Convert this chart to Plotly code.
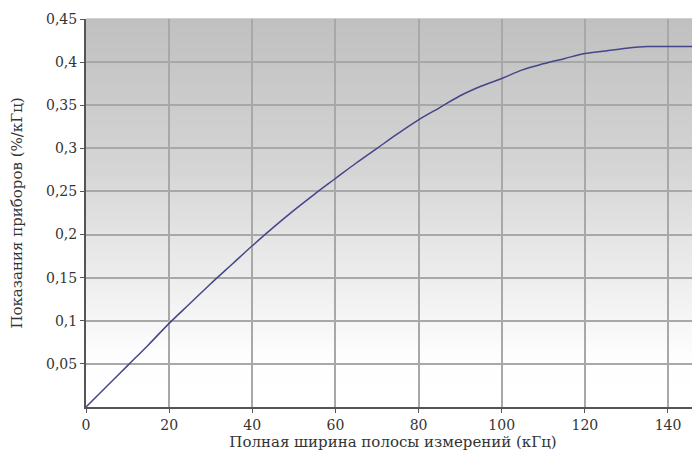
import plotly.graph_objects as go
import numpy as np

# Data
bandwidth_khz = [0, 5, 10, 15, 20, 25, 30, 35, 40, 45, 50, 55, 60, 65, 70, 75, 80, 85, 90, 95,
                 100, 105, 110, 115, 120, 125, 130, 135, 140, 145, 148]
reading = [0.0, 0.024, 0.048, 0.072, 0.097, 0.120, 0.143, 0.165, 0.187, 0.208, 0.228, 0.247,
           0.265, 0.283, 0.300, 0.317, 0.333, 0.347, 0.361, 0.372, 0.381, 0.391, 0.398, 0.404,
           0.410, 0.413, 0.416, 0.418, 0.418, 0.418, 0.418]

x_ticks = [0, 20, 40, 60, 80, 100, 120, 140]
x_labels = ["0", "20", "40", "60", "80", "100", "120", "140"]
y_ticks = [0.05, 0.1, 0.15, 0.2, 0.25, 0.3, 0.35, 0.4, 0.45]
y_labels = ["0,05", "0,1", "0,15", "0,2", "0,25", "0,3", "0,35", "0,4", "0,45"]

fig = go.Figure()
fig.add_trace(go.Scatter(x=bandwidth_khz, y=reading, mode="lines",
                         line=dict(color="#45458a", width=1.5), line_shape="spline",
                         hoverinfo="skip", showlegend=False))

# Vertical gradient background (grey at top -> white at bottom)
anchors_frac = [0.0, 0.39, 0.65, 0.88, 1.0]   # fraction from top of plot area
anchors_val = [192, 213, 236, 254, 255]
n = 80
shapes = []
for i in range(n):
    f0 = i / n
    f1 = (i + 1) / n
    v = int(round(np.interp((f0 + f1) / 2, anchors_frac, anchors_val)))
    c = f"rgb({v},{v},{v})"
    shapes.append(dict(type="rect", xref="paper", yref="paper",
                       x0=0, x1=1, y0=1 - f1, y1=1 - f0 + 0.002,
                       fillcolor=c, line=dict(width=0), layer="below"))

FONT = "DejaVu Serif"
fig.update_layout(
    width=692, height=447,
    margin=dict(l=78, r=0, t=11, b=48),
    paper_bgcolor="white",
    plot_bgcolor="white",
    shapes=shapes,
    font=dict(family=FONT, size=14, color="#333333"),
    xaxis=dict(range=[0, 147.7], tickvals=x_ticks, ticktext=x_labels,
               showgrid=True, gridcolor="#a8a8a8", gridwidth=1.5,
               showline=True, linecolor="#555555", linewidth=2,
               ticks="outside", ticklen=4, tickcolor="#555555",
               tickfont=dict(family=FONT, size=14, color="#333333"), zeroline=False,
               title=dict(text="Полная ширина полосы измерений (кГц)", standoff=3,
                          font=dict(family=FONT, size=15, color="#333333"))),
    yaxis=dict(range=[0, 0.45], tickvals=y_ticks, ticktext=y_labels,
               showgrid=True, gridcolor="#a8a8a8", gridwidth=1.5,
               showline=True, linecolor="#555555", linewidth=2,
               ticks="outside", ticklen=4, tickcolor="#555555",
               tickfont=dict(family=FONT, size=14, color="#333333"), zeroline=False,
               title=dict(text="Показания приборов (%/кГц)", standoff=20,
                          font=dict(family=FONT, size=15, color="#333333"))),
)

fig.write_html("out.html")
